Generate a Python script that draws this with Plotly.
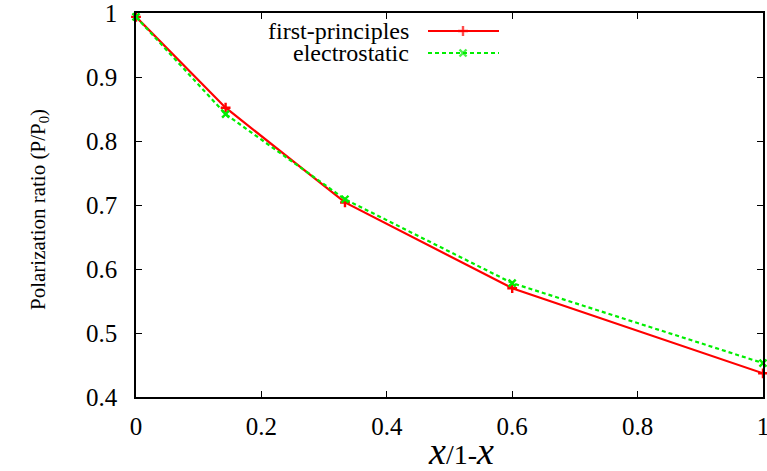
import plotly.graph_objects as go

# data
ratio = [0.0, 0.1429, 0.3333, 0.6, 1.0]
first_principles = [0.994, 0.852, 0.704, 0.570, 0.437]
electrostatic = [0.994, 0.842, 0.709, 0.578, 0.453]
series_names = ["first-principles", "electrostatic"]
xtick_vals = [0, 0.2, 0.4, 0.6, 0.8, 1]
xtick_text = ["0", "0.2", "0.4", "0.6", "0.8", "1"]
ytick_vals = [0.4, 0.5, 0.6, 0.7, 0.8, 0.9, 1]
ytick_text = ["0.4", "0.5", "0.6", "0.7", "0.8", "0.9", "1"]

RED = "#ff0000"
GREEN = "#00ee00"
FONT = "Liberation Serif"

# plot area in page pixels
PX0, PX1, PY0, PY1 = 136, 763, 13, 397
W, H = 767, 471


def px2paper(px, py):
    return (px - PX0) / (PX1 - PX0), (PY1 - py) / (PY1 - PY0)


fig = go.Figure()
fig.add_trace(go.Scatter(x=ratio, y=first_principles, mode="lines+markers",
                         line=dict(color=RED, width=2.2),
                         marker=dict(symbol="cross-thin", size=7, line=dict(color=RED, width=2.4)),
                         cliponaxis=False, showlegend=False))
fig.add_trace(go.Scatter(x=ratio, y=electrostatic, mode="lines+markers",
                         line=dict(color=GREEN, width=2.2, dash="4px,3px"),
                         marker=dict(symbol="x-thin", size=7, line=dict(color=GREEN, width=2.4)),
                         cliponaxis=False, showlegend=False))

# legend samples drawn on overlay axes laid out in page pixels
leg_rows = [31, 53]
fig.add_trace(go.Scatter(x=[428, 463, 499], y=[leg_rows[0]] * 3, xaxis="x2", yaxis="y2",
                         mode="lines+markers", line=dict(color=RED, width=2.2),
                         marker=dict(symbol="cross-thin", size=[0, 7, 0], line=dict(color=RED, width=2.4)),
                         showlegend=False, hoverinfo="skip"))
fig.add_trace(go.Scatter(x=[428, 463, 499], y=[leg_rows[1]] * 3, xaxis="x2", yaxis="y2",
                         mode="lines+markers", line=dict(color=GREEN, width=2.2, dash="4px,3px"),
                         marker=dict(symbol="x-thin", size=[0, 7, 0], line=dict(color=GREEN, width=2.4)),
                         showlegend=False, hoverinfo="skip"))
for name, row in zip(series_names, leg_rows):
    fig.add_annotation(x=411, y=row, xref="x2", yref="y2", text=name, showarrow=False,
                       xanchor="right", yanchor="middle", font=dict(family=FONT, size=24, color="black"))

axis_common = dict(showgrid=False, zeroline=False, showline=True, linecolor="black", linewidth=1.5,
                   mirror="allticks", ticks="inside", ticklen=6, tickcolor="black", tickwidth=1,
                   tickfont=dict(family=FONT, size=25, color="black"), automargin=False,
                   ticklabeloverflow="allow")
fig.update_layout(
    width=W, height=H,
    margin=dict(l=PX0, r=W - PX1, t=PY0, b=H - PY1),
    paper_bgcolor="white", plot_bgcolor="white",
    font=dict(family=FONT),
    xaxis=dict(range=[0, 1], tickvals=xtick_vals, ticktext=xtick_text, ticklabelstandoff=6, **axis_common),
    yaxis=dict(range=[0.4, 1], tickvals=ytick_vals, ticktext=ytick_text, ticklabelstandoff=12, **axis_common),
    xaxis2=dict(range=[PX0, PX1], overlaying="x", visible=False, anchor="y2"),
    yaxis2=dict(range=[PY1, PY0], overlaying="y", visible=False, anchor="x2"),
    showlegend=False,
)
yx, yy = px2paper(24, 210)
fig.add_annotation(x=yx, y=yy, xref="paper", yref="paper", showarrow=False, textangle=-90,
                   text="Polarization ratio (P/P<sub>0</sub>)",
                   font=dict(family=FONT, size=21, color="black"))
tx, ty = px2paper(461, 451)
fig.add_annotation(x=tx, y=ty, xref="paper", yref="paper", showarrow=False, yanchor="middle",
                   text="<i><span style='font-size:38px'>x</span></i>/1-<i><span style='font-size:38px'>x</span></i>",
                   font=dict(family=FONT, size=28, color="black"))

fig.write_html("out.html", config={"displayModeBar": False},
               post_script="document.body.style.margin='0';")
